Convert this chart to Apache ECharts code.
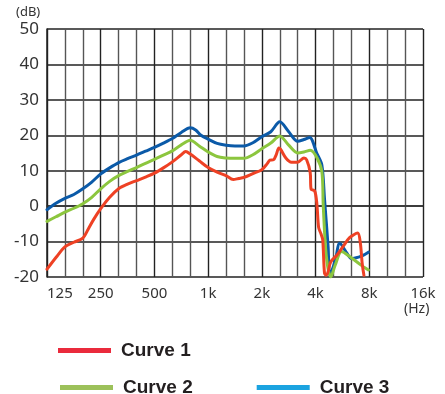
<!DOCTYPE html>
<html>
<head>
<meta charset="utf-8">
<script src="https://cdn.jsdelivr.net/npm/echarts@6/dist/echarts.min.js"></script>
<style>
  html, body { margin: 0; padding: 0; background: #fff; }
  #chart { width: 445px; height: 394px; }
</style>
</head>
<body>
<div id="chart"></div>
<script>
// x positions are 1/3-octave steps above 125 Hz (3 steps = 1 octave)
const freqLabels = ['125', '250', '500', '1k', '2k', '4k', '8k', '16k'];

const curve1X = [0, 0.5, 1, 1.5, 2, 2.3, 2.6, 3, 3.5, 4, 4.5, 5, 5.5, 6, 6.5, 7, 7.5, 7.75, 8, 8.5, 9, 9.5, 10, 10.4, 10.7, 11, 11.5, 12, 12.3, 12.45, 12.65, 12.8, 12.95, 13.05, 13.35, 13.65, 14, 14.35, 14.5, 14.7, 14.75, 14.95, 15.07, 15.17, 15.3, 15.4, 15.5, 15.6, 15.7, 15.85, 16.2, 16.55, 16.9, 17.35, 17.5, 17.6, 17.7];
const curve1 = [-17.8, -14.5, -11.5, -10.2, -9, -6.5, -3.8, -0.7, 2.5, 4.9, 6.2, 7.2, 8.2, 9.3, 10.8, 12.5, 14.5, 15.4, 14.7, 12.8, 10.9, 9.6, 8.6, 7.5, 7.8, 8.1, 9.2, 10.3, 12, 13, 13.1, 14.5, 16.4, 16, 13.5, 12.4, 12.4, 13.6, 13.1, 9.5, 4.8, 4.3, 0.8, -6, -7.8, -9.5, -19, -19.5, -18.5, -15.7, -13.8, -11.3, -8.9, -7.6, -10.4, -16, -19.5];

const curve2X = [0, 0.5, 1, 1.5, 2, 2.5, 3, 3.5, 4, 4.5, 5, 5.5, 6, 6.5, 7, 7.5, 8, 8.5, 9, 9.5, 10, 10.5, 11, 11.5, 12, 12.5, 13, 13.5, 14, 14.35, 14.7, 15.35, 15.43, 15.6, 15.85, 16.1, 16.45, 16.9, 17.5, 17.95];
const curve2 = [-4.3, -3, -1.7, -0.6, 0.7, 2.5, 4.9, 7, 8.6, 9.8, 10.9, 12.1, 13.2, 14.4, 15.6, 17.3, 18.6, 17, 15.3, 14, 13.6, 13.5, 13.5, 14.5, 16.2, 17.8, 19.8, 17.2, 15, 15.3, 15.8, 9.8, 0, -14.1, -20, -16.6, -12.8, -14.2, -16.5, -18];

const curve3X = [0, 0.5, 1, 1.5, 2, 2.5, 3, 3.5, 4, 4.5, 5, 5.5, 6, 6.5, 7, 7.5, 8, 8.3, 8.6, 9, 9.5, 10, 10.5, 11, 11.5, 12, 12.5, 13, 13.5, 14, 14.35, 14.67, 15.07, 15.35, 15.5, 15.7, 15.8, 16.1, 16.35, 16.75, 17, 17.4, 17.65, 17.95];
const curve3 = [-1, 0.8, 2.2, 3.3, 4.9, 6.8, 9.1, 10.8, 12.3, 13.4, 14.4, 15.5, 16.6, 17.8, 19.1, 20.8, 22.1, 21.5, 20, 18.9, 17.7, 17.2, 17, 17, 17.9, 19.6, 21, 23.8, 21, 18.3, 18.8, 19.4, 14.9, 11.6, 2, -11.4, -19.5, -15.3, -10.5, -13.3, -14.8, -14.4, -13.9, -13];

function pairs(xs, ys) {
  return xs.map((x, i) => [x, ys[i]]);
}

const chart = echarts.init(document.getElementById('chart'));

function curve(name, xs, ys, color, z) {
  return {
    name: name,
    type: 'line',
    data: pairs(xs, ys),
    symbol: 'none',
    smooth: 0.3,
    z: z,
    lineStyle: { color: color, width: 3, join: 'round', cap: 'round' },
    itemStyle: { color: color }
  };
}

const legendText = {
  fontFamily: 'Liberation Sans',
  fontWeight: 'bold',
  fontSize: 19,
  color: '#231f20',
  padding: [0, 0, 0, 5]
};

const option = {
  animation: false,
  backgroundColor: '#fff',
  grid: { left: 47, right: 22, top: 29, bottom: 117 },
  xAxis: {
    type: 'value',
    min: 0,
    max: 21,
    interval: 1,
    axisLine: { lineStyle: { color: '#333', width: 1.5 } },
    axisTick: { show: false },
    axisLabel: {
      margin: 9,
      fontFamily: 'Noto Sans',
      fontSize: 15,
      color: '#333',
      alignMinLabel: 'left',
      formatter: function (v) {
        return v % 3 === 0 ? freqLabels[v / 3] : '';
      }
    },
    splitLine: {
      show: true,
      lineStyle: { color: ['#222', '#555', '#555'], width: 1.4 }
    }
  },
  yAxis: {
    type: 'value',
    min: -20,
    max: 50,
    interval: 10,
    axisLine: { show: true, lineStyle: { color: '#222', width: 1.5 } },
    axisTick: { show: false },
    axisLabel: {
      margin: 8,
      fontFamily: 'Noto Sans',
      fontSize: 17,
      color: '#333'
    },
    splitLine: { show: true, lineStyle: { color: '#222', width: 1.5 } }
  },
  legend: [
    {
      left: 58,
      top: 341,
      padding: 0,
      icon: 'rect',
      itemWidth: 53,
      itemHeight: 5,
      textStyle: legendText,
      data: [{ name: 'Curve 1', itemStyle: { color: '#ea2a3c' } }]
    },
    {
      left: 60,
      top: 378,
      padding: 0,
      icon: 'rect',
      itemWidth: 53,
      itemHeight: 5,
      itemGap: 64,
      textStyle: legendText,
      data: [
        { name: 'Curve 2', itemStyle: { color: '#9cc15a' } },
        { name: 'Curve 3', itemStyle: { color: '#1ba3e0' } }
      ]
    }
  ],
  graphic: [
    {
      type: 'text', left: 16, top: 6,
      style: { text: '(dB)', font: '13px "Noto Sans"', fill: '#333' }
    },
    {
      type: 'text', left: 404, top: 302,
      style: { text: '(Hz)', font: '14px "Noto Sans"', fill: '#333' }
    }
  ],
  series: [
    curve('Curve 3', curve3X, curve3, '#0b5aa8', 2),
    curve('Curve 2', curve2X, curve2, '#8cc63e', 3),
    curve('Curve 1', curve1X, curve1, '#ee4124', 4)
  ]
};

chart.setOption(option);
</script>
</body>
</html>
